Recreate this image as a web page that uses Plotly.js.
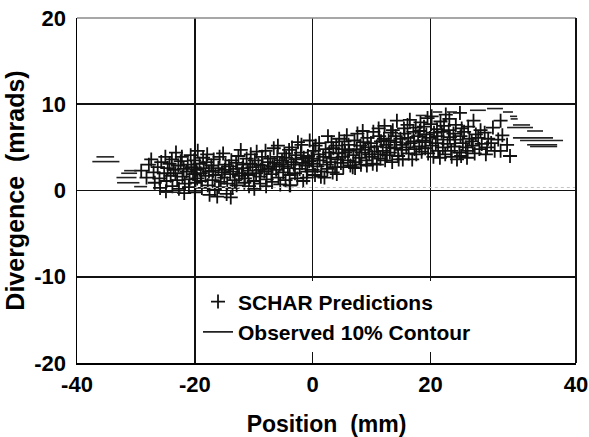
<!DOCTYPE html>
<html>
<head>
<meta charset="utf-8">
<script src="https://cdn.plot.ly/plotly-3.0.1.min.js"></script>
<style>html,body{margin:0;padding:0;background:#fff}#chart{width:589px;height:437px}</style>
</head>
<body>
<div id="chart"></div>
<script>
// ---- axis ticks ----
var xTickVals = [-40, -20, 0, 20, 44.7];
var xTickText = ['-40', '-20', '0', '20', '40'];
var yTickVals = [-20, -10, 0, 10, 20];
var yTickText = ['-20', '-10', '0', '10', '20'];

// ---- SCHAR predictions (position mm, divergence mrads) ----
var scharX = [
 -29.1, -28.2, -27.8, -27.4, -27.0, -26.8,
 -26.3, -26.0, -25.7, -25.9,
 -25.2, -25.0, -24.8, -24.6, -24.9,
 -24.3, -24.1, -23.8, -23.6, -23.9,
 -23.2, -23.0, -22.8, -22.7, -23.3,
 -22.4, -22.1, -21.9, -21.7, -22.2, -21.8,
 -21.4, -21.2, -20.9, -20.7, -21.0, -20.6,
 -20.3, -20.1, -19.9, -19.7, -19.5, -20.0, -19.6,
 -19.2, -19.0, -18.8, -18.6, -18.9, -18.5,
 -18.2, -18.0, -17.8, -17.6, -17.9, -17.5,
 -17.2, -17.0, -16.8, -16.6, -16.9, -16.5,
 -16.2, -16.0, -15.8, -15.6, -15.9, -15.4,
 -15.2, -15.0, -14.8, -14.6, -14.9, -14.5,
 -14.2, -14.0, -13.8, -13.6, -13.9, -13.5,
 -13.2, -13.0, -12.8, -12.6, -12.9, -12.5,
 -12.2, -12.0, -11.8, -11.6, -11.9, -11.5,
 -11.2, -11.0, -10.8, -10.6, -10.9, -10.5,
 -10.2, -10.0, -9.8, -9.6, -9.9, -9.5,
 -9.2, -9.0, -8.8, -8.6, -8.9, -8.5,
 -8.2, -8.0, -7.8, -7.6, -7.9, -7.5,
 -7.2, -7.0, -6.8, -6.6, -6.9, -6.5,
 -6.2, -6.0, -5.8, -5.6, -5.9, -5.5,
 -5.2, -5.0, -4.8, -4.6, -4.9, -4.5,
 -4.2, -4.0, -3.8, -3.6, -3.9, -3.5, -3.9,
 -3.2, -3.0, -2.8, -2.6, -2.9, -2.5,
 -2.2, -2.0, -1.8, -1.6, -1.9, -1.5,
 -1.2, -1.0, -0.8, -0.6, -0.9, -0.5,
 -0.2, 0.0, 0.2, 0.4, 0.1, 0.5,
 0.8, 1.0, 1.2, 1.4, 1.1, 1.5,
 1.8, 2.0, 2.2, 2.4, 2.6, 2.5,
 2.8, 3.0, 3.2, 3.4, 3.1, 3.5,
 3.8, 4.0, 4.2, 4.4, 4.1, 4.5,
 4.8, 5.0, 5.2, 5.4, 5.1, 5.5,
 5.8, 6.0, 6.2, 6.4, 6.1, 6.8,
 6.9, 7.1, 7.3, 7.5, 7.2, 7.6,
 7.9, 8.1, 8.3, 8.5, 8.2, 8.6,
 8.9, 9.1, 9.3, 9.5, 9.2, 9.6,
 9.9, 10.1, 10.3, 10.5, 10.2, 10.9,
 10.9, 11.1, 11.3, 11.5, 11.2, 11.6,
 11.9, 12.1, 12.3, 12.5, 12.2, 12.6,
 12.9, 13.1, 13.3, 13.5, 13.2, 13.6,
 13.9, 14.1, 14.3, 14.5, 14.2, 14.6,
 14.9, 15.1, 15.3, 15.5, 15.2, 15.6,
 15.9, 16.1, 16.3, 16.5, 16.2, 16.6,
 16.9, 17.1, 17.3, 17.5, 17.2, 17.6,
 17.9, 18.1, 18.3, 18.5, 18.2, 18.6,
 18.9, 19.1, 19.3, 19.5, 19.2, 19.6,
 19.9, 20.1, 20.3, 20.5, 20.2, 20.6,
 20.9, 21.1, 21.3, 21.6, 21.2, 21.7,
 21.9, 22.1, 22.3, 22.5, 22.2, 22.6,
 22.9, 23.1, 23.3, 23.5, 23.2, 23.6,
 23.9, 24.1, 24.5, 24.3, 24.2, 25.0,
 24.9, 25.1, 25.3, 25.5, 25.2, 25.7,
 26.0, 26.2, 26.4, 26.6, 26.3,
 27.0, 27.3, 27.5, 27.7, 27.2,
 28.1, 28.3, 28.5, 28.7,
 29.2, 29.6, 29.4, 29.8,
 30.3, 30.6, 30.9,
 31.5, 31.9, 31.9, 32.2,
 33.5, 33.0
];
var scharY = [
 2.3, 1.5, 3.0, 3.6, 2.1, 0.9,
 2.7, 1.4, 3.3, 0.3,
 2.0, 3.9, 1.1, 2.6, -0.1,
 3.1, 1.7, 0.5, 2.4, 3.6,
 4.4, 1.2, 2.9, 0.2, 2.0,
 3.4, 1.6, 2.5, 0.8, 3.9, -0.3,
 2.2, 3.0, 1.3, 4.1, 0.4, 2.7,
 1.9, 3.5, 0.9, 2.4, 4.6, -0.2, 1.4,
 3.1, 2.0, 0.3, 3.8, 1.1, 2.6,
 1.7, 3.3, 0.6, 2.2, 4.2, -0.5,
 2.9, 1.2, 3.6, 0.1, 2.3, 1.8,
 -0.7, 2.6, 3.9, 1.0, 0.4, 2.1,
 4.3, 1.5, 3.0, -0.4, 2.4, 0.8,
 2.8, 1.9, 3.5, 0.3, -0.8, 2.2,
 1.2, 3.2, 2.5, 4.0, 0.6, 1.7,
 4.7, 2.0, 3.0, 0.9, 2.6, 1.4,
 3.7, 2.3, 0.5, 3.1, 1.8, 4.2,
 2.7, 1.1, 3.5, 2.0, 0.2, 4.5,
 3.0, 1.6, 2.4, 3.9, 0.8, 2.9,
 2.2, 4.6, 1.3, 3.3, 0.5, 2.6,
 3.7, 1.9, 2.8, 4.9, 1.0, 3.2,
 2.4, 3.9, 1.5, 3.0, 5.2, 0.7,
 3.5, 2.1, 4.3, 1.2, 2.8, 3.8,
 2.6, 4.7, 0.6, 3.3, 1.8, 5.0, 0.6,
 3.0, 2.0, 4.1, 1.4, 3.6, 5.6,
 2.5, 4.4, 3.2, 1.1, 5.3, 3.8,
 2.9, 1.5, 4.0, 3.4, 2.2, 5.8,
 3.7, 2.4, 4.6, 1.8, 3.1, 5.2,
 2.8, 4.2, 3.5, 1.6, 5.5, 2.2,
 3.9, 1.5, 4.8, 3.0, 6.3, 2.5,
 4.4, 3.3, 5.6, 2.1, 3.8, 4.9,
 2.7, 5.2, 3.6, 4.3, 1.9, 6.0,
 3.2, 4.8, 2.7, 5.7, 3.9, 4.4,
 6.4, 3.5, 4.6, 2.9, 5.3, 2.7,
 4.1, 5.8, 3.3, 4.8, 2.6, 6.6,
 3.8, 5.2, 4.4, 6.9, 3.0, 5.6,
 4.7, 3.5, 6.1, 5.0, 2.9, 4.2,
 5.5, 3.9, 6.8, 4.5, 3.1, 3.0,
 5.1, 4.2, 6.3, 3.7, 7.2, 5.7,
 4.6, 6.0, 3.5, 5.3, 7.5, 4.1,
 5.8, 4.4, 6.7, 3.3, 5.0, 7.0,
 4.9, 6.3, 8.1, 4.0, 5.6, 3.6,
 6.0, 4.7, 3.6, 7.2, 5.3, 6.6,
 5.0, 7.6, 4.3, 8.2, 6.1, 5.5,
 3.6, 6.8, 4.8, 7.3, 5.7, 4.2,
 6.3, 5.1, 7.9, 4.5, 6.9, 5.8,
 7.4, 4.9, 6.5, 8.4, 5.6, 4.3,
 6.1, 7.7, 5.2, 3.9, 8.6, 6.7,
 5.5, 7.1, 4.6, 3.8, 6.3, 8.0,
 6.8, 5.0, 7.5, 4.2, 5.9, 8.8,
 5.4, 7.0, 6.2, 4.6, 8.3, 3.9,
 6.6, 5.1, 3.6, 7.6, 5.9, 9.0,
 4.4, 6.3, 7.2, 5.5, 4.0, 6.8,
 5.0, 3.8, 7.4, 6.0, 4.6,
 5.7, 8.1, 4.3, 6.5, 5.2,
 6.1, 4.8, 7.0, 5.4,
 6.7, 5.0, 4.2, 6.0,
 5.5, 7.3, 4.6,
 5.9, 8.1, 4.6, 6.4,
 4.0, 5.3
];

// ---- Observed 10% contour: short horizontal segments ----
var contourX0 = [-36.7, -37.4, -32.0, -32.5, -33.3, -33.2, -30.3, -26.0,
                 17.5, 20.4, 22.8, 26.7, 29.6, 32.3, 33.5, 33.6, 34.0, 33.0, 36.4, 34.0, 35.2, 36.4, 36.9];
var contourX1 = [-33.7, -32.8, -29.9, -29.8, -29.9, -29.4, -28.1, -22.3,
                 19.4, 22.0, 24.5, 29.4, 32.3, 34.0, 34.7, 34.8, 36.9, 37.4, 39.1, 40.8, 42.5, 41.5, 41.5];
var contourY  = [3.9, 3.35, 2.3, 2.0, 1.5, 0.9, 0.45, -0.2,
                 8.7, 9.1, 9.1, 9.3, 9.5, 9.1, 8.6, 8.3, 7.6, 7.3, 6.9, 6.1, 5.8, 5.3, 5.1];

// faint lower edge of the observed contour
var contourLowX = [-20, 44.6];
var contourLowY = [0.35, 0.35];

// build segment arrays for the line trace
var segX = [], segY = [];
for (var i = 0; i < contourY.length; i++) {
  segX.push(contourX0[i], contourX1[i], null);
  segY.push(contourY[i], contourY[i], null);
}

var FONT = 'Arial, "Liberation Sans", Helvetica, sans-serif';

var traces = [
  {
    x: scharX, y: scharY, type: 'scatter', mode: 'markers',
    name: 'SCHAR Predictions', legendgroup: 'a',
    marker: {symbol: 'cross-thin-open', size: 10, color: '#111', line: {color: '#111', width: 1.8}}
  },
  {
    x: segX, y: segY, type: 'scatter', mode: 'lines',
    name: 'Observed 10% Contour', legendgroup: 'b',
    line: {color: '#222', width: 1.6}, connectgaps: false
  },
  {
    x: contourLowX, y: contourLowY, type: 'scatter', mode: 'lines',
    showlegend: false, hoverinfo: 'skip',
    line: {color: '#c4c4c4', width: 1, dash: 'dot'}
  }
];

var layout = {
  width: 589, height: 437,
  margin: {l: 77, r: 13, t: 18, b: 74, pad: 0},
  paper_bgcolor: '#fff', plot_bgcolor: '#fff',
  font: {family: FONT, color: '#000'},
  showlegend: true,
  legend: {
    x: 0.2425, xanchor: 'left', y: 0.2365, yanchor: 'top',
    bgcolor: '#fff', borderwidth: 0,
    font: {family: FONT, size: 21, weight: 'bold', color: '#000'},
    tracegroupgap: 0, traceorder: 'grouped'
  },
  xaxis: {
    range: [-40, 44.7], tickmode: 'array', tickvals: xTickVals, ticktext: xTickText,
    showgrid: true, gridcolor: '#111', gridwidth: 1.6,
    showline: true, linecolor: '#000', linewidth: 2,
    zeroline: false, ticks: '', ticklabelstandoff: 1,
    tickfont: {family: FONT, size: 22, weight: 'bold', color: '#000'},
    title: {text: 'Position\u00a0 (mm)', font: {family: FONT, size: 23, weight: 'bold', color: '#000'}, standoff: 20}
  },
  yaxis: {
    range: [-20, 20], tickmode: 'array', tickvals: yTickVals, ticktext: yTickText,
    showgrid: true, gridcolor: '#111', gridwidth: 1.6,
    showline: true, linecolor: '#000', linewidth: 1.5,
    zeroline: false, ticks: '', ticklabelstandoff: 5,
    tickfont: {family: FONT, size: 22, weight: 'bold', color: '#000'},
    title: {text: 'Divergence\u00a0 (mrads)', font: {family: FONT, size: 25, weight: 'bold', color: '#000'}, standoff: 2}
  },
  shapes: [
    {type: 'line', xref: 'paper', yref: 'paper', x0: 0, x1: 1, y0: 1, y1: 1,
     line: {color: '#8a8a8a', width: 1.5}, layer: 'above'},
    {type: 'line', xref: 'paper', yref: 'paper', x0: 1, x1: 1, y0: 0, y1: 1,
     line: {color: '#111', width: 2}, layer: 'above'}
  ]
};

Plotly.newPlot('chart', traces, layout, {staticPlot: true, displayModeBar: false});
</script>
</body>
</html>
